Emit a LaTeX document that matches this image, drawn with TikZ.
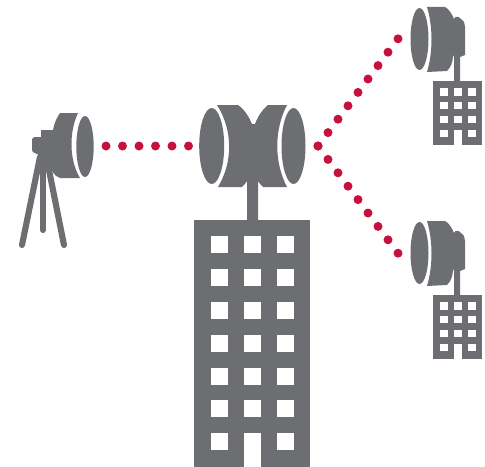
\documentclass[tikz,border=0pt]{standalone}
\usepackage{xcolor}
\usepackage{tikz}

\definecolor{slategrey}{HTML}{6D6E71}
\definecolor{linkred}{HTML}{C8103F}

\begin{document}
\begin{tikzpicture}[
    x=0.75pt, y=-0.75pt,
    glyph/.style={fill=slategrey},
    leg/.style={draw=slategrey, line width=4.6pt, line cap=round},
    window/.style={fill=white},
    linkdot/.style={fill=linkred}
]
\useasboundingbox (0,0) rectangle (485,467);

% Tripod camera
\draw[leg] (40,157) -- (22,245);
\draw[leg] (43,157) -- (43,230);
\draw[leg] (47,160) -- (64,245);
\fill[glyph] (60,113) -- (78,113) .. controls (69,132) and (69,160) .. (80,178) -- (60,178)
    .. controls (54,176) and (50,170) .. (50,162) -- (37,154) -- (33,152) -- (32,150) -- (32,139)
    -- (34,137) -- (41,137) -- (41,130) -- (53,130) .. controls (54,124) and (57,117) .. (60,113) -- cycle;
\fill[glyph] (85,146.5) ellipse (8.7 and 30.5);

% Link dots
\foreach \i in {0,...,5}
    \fill[linkdot] ({106+16.5*\i},146) circle (4.5);
\foreach \i in {0,...,8} {
    \fill[linkdot] ({318+10*\i},{146-13.4*\i}) circle (4.5);
    \fill[linkdot] ({318+10*\i},{146+13.4*\i}) circle (4.5);
}

% Central relay
\fill[glyph] (217,105) -- (238,105) .. controls (245,110) and (249,117) .. (252,124) -- (255,124)
    .. controls (258,116) and (262,110) .. (268,105) -- (287,105)
    .. controls (274,130) and (274,162) .. (287,187) -- (263,187)
    .. controls (261,185) and (259,183) .. (258,181) -- (258,220) -- (247,220) -- (247,181)
    .. controls (246,183) and (244,185) .. (242,187) -- (218,187)
    .. controls (233,162) and (233,130) .. (217,105) -- cycle;
\fill[glyph] (211.7,146) ellipse (12.5 and 38);
\fill[glyph] (293.5,146) ellipse (12 and 38);

% Central tower
\fill[glyph] (194,220) rectangle (310,467);
\foreach \wx in {211,244,277}
    \foreach \wy in {236,269,302,335,368,400,433}
        \fill[window] (\wx,\wy) rectangle ++(17,17);
\fill[window] (244,450) rectangle (260.5,467);

% Small relays
\foreach \dy in {0,214} {
    \begin{scope}[yshift=-0.75pt*\dy]
    \fill[glyph] (427,7) -- (445,7) .. controls (449,9) and (452,14) .. (454,19)
        .. controls (455,16) and (459,16) .. (461,19) -- (464,22) -- (465,27) -- (465,55) -- (460,57)
        -- (460,81) -- (454,81) -- (454,57) -- (453,55) .. controls (453,62) and (451,67) .. (447,71)
        -- (427,72) .. controls (433,52) and (433,27) .. (427,7) -- cycle;
    \fill[glyph] (419.5,39) ellipse (9 and 31);
    \fill[glyph] (433,81) rectangle (482,144.5);
    \foreach \wx in {439.5,453.5,467.7}
        \foreach \wy in {88.3,102,116,130}
            \fill[window] (\wx,\wy) rectangle ++(8,7.4);
    \fill[window] (453.5,137) rectangle (461.5,144.5);
    \end{scope}
}

\end{tikzpicture}
\end{document}
